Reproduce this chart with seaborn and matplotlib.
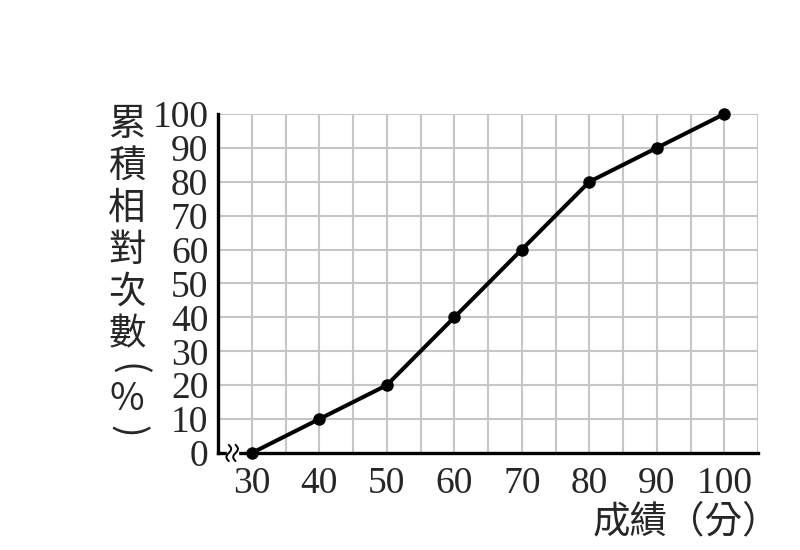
import numpy as np
import pandas as pd
import matplotlib
matplotlib.use("Agg")
import matplotlib.pyplot as plt
import seaborn as sns

scores = [30, 40, 50, 60, 70, 80, 90, 100]
cum_pct = [0, 10, 20, 40, 60, 80, 90, 100]
x_ticks = [30, 40, 50, 60, 70, 80, 90, 100]
y_ticks = list(range(0, 101, 10))
y_label_words = "累積相對次數"
y_label_unit = "%"
x_label = "成績（分）"

df = pd.DataFrame({"score": scores, "pct": cum_pct})

sns.set_style("white")
plt.rcParams["font.family"] = ["Liberation Serif", "DejaVu Serif"]
cjk = ["Noto Sans CJK TC", "DejaVu Sans"]

fig = plt.figure(figsize=(8, 5.5), dpi=100)
ax = fig.add_axes([0.2725, 0.1764, 0.675, 0.6163])

ax.set_xlim(25, 105)
ax.set_ylim(0, 100)
ax.set_xticks(np.arange(25, 106, 5), minor=True)
ax.set_yticks(y_ticks)
ax.set_xticks(x_ticks)
ax.grid(True, which="both", color="#c6c6c6", linewidth=1.5)
ax.set_axisbelow(True)

sns.lineplot(data=df, x="score", y="pct", ax=ax, color="black", linewidth=2.9,
             marker="o", markersize=9, markeredgewidth=0, clip_on=False, zorder=5)

for s in ["top", "right"]:
    ax.spines[s].set_visible(False)
for s in ["left", "bottom"]:
    ax.spines[s].set_color("black")
    ax.spines[s].set_linewidth(2.4)
    ax.spines[s].set_zorder(4)

ax.tick_params(axis="x", which="major", direction="in", length=7, width=1.8,
               color="black", labelsize=27, pad=10)
ax.tick_params(axis="x", which="minor", length=0)
ax.tick_params(axis="y", length=0, labelsize=27, pad=7)
ax.set_xticklabels([str(v) for v in x_ticks])
ax.set_yticklabels([str(v) for v in y_ticks])
ax.set_xlabel("")
ax.set_ylabel("")

# axis break mark near the origin
t = np.linspace(-1, 1, 30)
ax.fill_betweenx([-0.6, 0.6], 26.3, 27.9, color="white", zorder=5, clip_on=False)
for x0 in (26.6, 27.6):
    xs = x0 + 0.35 * np.sin(t * np.pi)
    ys = t * 2.4
    ax.plot(xs, ys, color="black", linewidth=1.4, clip_on=False, zorder=6)

# vertical y label: stacked characters, unit in rotated parentheses
fig.text(127 / 800, 1 - 105 / 550, "\n".join(y_label_words), family=cjk,
         fontsize=27, ha="center", va="top", linespacing=1.1)
fig.text(127 / 800, 1 - 369 / 550, "(", family=cjk, fontsize=27,
         rotation=-90, ha="center", va="center")
fig.text(127 / 800, 1 - 400 / 550, y_label_unit, family=cjk, fontsize=27,
         ha="center", va="center")
fig.text(127 / 800, 1 - 431 / 550, ")", family=cjk, fontsize=27,
         rotation=-90, ha="center", va="center")

fig.text(593 / 800, 1 - 522 / 550, x_label, family=cjk, fontsize=27,
         ha="left", va="center")

plt.savefig("out.png", dpi=100)
